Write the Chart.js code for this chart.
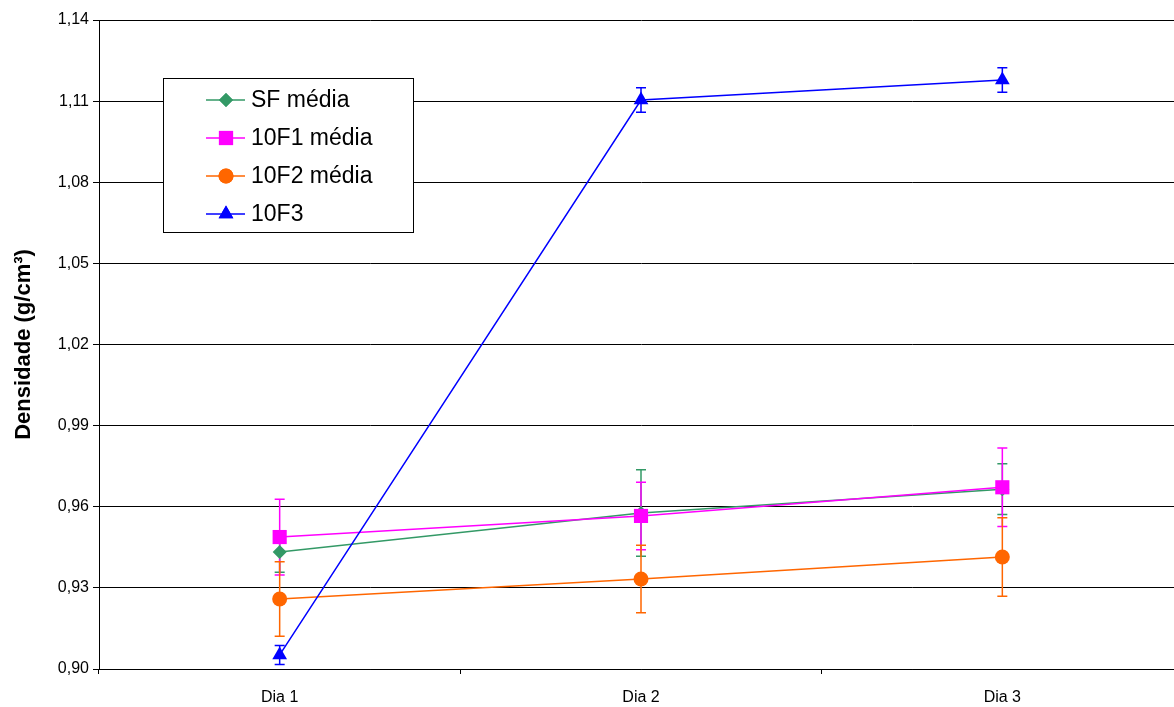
<!DOCTYPE html>
<html>
<head>
<meta charset="utf-8">
<script src="https://cdn.jsdelivr.net/npm/chart.js@4/dist/chart.umd.min.js"></script>
<style>
  html, body { margin: 0; padding: 0; background: #fff; }
  #wrap { width: 1174px; height: 707px; overflow: hidden; }
</style>
</head>
<body>
<div id="wrap"><canvas id="chart" width="1193" height="707"></canvas></div>
<script>
// categories and values
const days = ['Dia 1', 'Dia 2', 'Dia 3'];
const seriesNames = ['SF média', '10F1 média', '10F2 média', '10F3'];
const sfMean = [0.9433, 0.9577, 0.9665];
const sfErr = [0.0075, 0.016, 0.0094];
const f1Mean = [0.9488, 0.9566, 0.9672];
const f1Err = [0.014, 0.0125, 0.0145];
const f2Mean = [0.9259, 0.9333, 0.9414];
const f2Err = [0.0138, 0.0125, 0.0145];
const f3Mean = [0.9052, 1.1104, 1.1178];
const f3Err = [0.0035, 0.0045, 0.0045];
const yMin = 0.90, yMax = 1.14, yStep = 0.03;

const errors = [sfErr, f1Err, f2Err, f3Err];
const FONT = 'Arial, "Liberation Sans", sans-serif';

const errorBars = {
  id: 'errorBars',
  beforeDatasetsDraw(chart) {
    const ctx = chart.ctx;
    const yScale = chart.scales.y;
    chart.data.datasets.forEach((ds, i) => {
      const meta = chart.getDatasetMeta(i);
      ctx.save();
      ctx.strokeStyle = ds.borderColor;
      ctx.lineWidth = 1.5;
      meta.data.forEach((pt, j) => {
        const e = errors[i][j];
        const v = ds.data[j];
        const top = yScale.getPixelForValue(v + e);
        const bot = yScale.getPixelForValue(v - e);
        ctx.beginPath();
        ctx.moveTo(pt.x, top);
        ctx.lineTo(pt.x, bot);
        ctx.moveTo(pt.x - 5, top);
        ctx.lineTo(pt.x + 5, top);
        ctx.moveTo(pt.x - 5, bot);
        ctx.lineTo(pt.x + 5, bot);
        ctx.stroke();
      });
      ctx.restore();
    });
  }
};

// legend box drawn inside the plot area, as in the original
const boxLegend = {
  id: 'boxLegend',
  afterDraw(chart) {
    const ctx = chart.ctx;
    const x0 = 163.5, y0 = 78.5, w = 250, h = 154;
    ctx.save();
    ctx.fillStyle = '#fff';
    ctx.fillRect(x0, y0, w, h);
    ctx.strokeStyle = '#000';
    ctx.lineWidth = 1;
    ctx.strokeRect(x0, y0, w, h);
    chart.data.datasets.forEach((ds, i) => {
      const cy = 100 + i * 38;
      ctx.strokeStyle = ds.borderColor;
      ctx.lineWidth = 1.5;
      ctx.beginPath();
      ctx.moveTo(206, cy);
      ctx.lineTo(245, cy);
      ctx.stroke();
      ctx.fillStyle = ds.backgroundColor;
      Chart.helpers.drawPoint(ctx, {
        pointStyle: ds.pointStyle,
        radius: ds.pointRadius,
        borderWidth: 0
      }, 226, cy);
      ctx.fill();
      ctx.fillStyle = '#000';
      ctx.font = '23px ' + FONT;
      ctx.textBaseline = 'middle';
      ctx.textAlign = 'left';
      ctx.fillText(ds.label, 251, cy + 1);
    });
    ctx.restore();
  }
};

function line(label, data, color, style, radius, order) {
  return {
    label: label,
    data: data,
    borderColor: color,
    backgroundColor: color,
    borderWidth: 1.5,
    pointStyle: style,
    pointRadius: radius,
    pointBorderWidth: 0,
    pointHoverRadius: radius,
    tension: 0,
    order: order
  };
}

new Chart(document.getElementById('chart'), {
  type: 'line',
  data: {
    labels: days,
    datasets: [
      line(seriesNames[0], sfMean, '#339966', 'rectRot', 7, 4),
      line(seriesNames[1], f1Mean, '#FF00FF', 'rect', 10, 3),
      line(seriesNames[2], f2Mean, '#FF6600', 'circle', 7.5, 2),
      line(seriesNames[3], f3Mean, '#0000FF', 'triangle', 8.5, 1)
    ]
  },
  options: {
    responsive: false,
    animation: false,
    layout: { padding: { left: 0, right: 6, top: 20, bottom: 0 } },
    scales: {
      x: {
        offset: true,
        afterFit: (s) => { s.height = 38; },
        grid: {
          offset: true,
          drawOnChartArea: false,
          drawTicks: true,
          tickLength: 5,
          color: '#000'
        },
        border: { display: true, color: '#000', width: 1 },
        ticks: {
          color: '#000',
          padding: 14,
          font: { family: FONT, size: 16 }
        }
      },
      y: {
        min: yMin,
        max: yMax,
        afterFit: (s) => { s.width = 99; },
        ticks: {
          stepSize: yStep,
          color: '#000',
          padding: 4,
          font: { family: FONT, size: 16 },
          callback: (v) => v.toFixed(2).replace('.', ',')
        },
        grid: { color: '#000', tickLength: 6, lineWidth: 1 },
        border: { display: true, color: '#000', width: 1 },
        title: {
          display: true,
          text: 'Densidade (g/cm³)',
          color: '#000',
          padding: { top: 11, bottom: 0 },
          font: { family: FONT, size: 22, weight: 'bold' }
        }
      }
    },
    plugins: {
      legend: { display: false },
      tooltip: { enabled: false }
    }
  },
  plugins: [errorBars, boxLegend]
});
</script>
</body>
</html>
